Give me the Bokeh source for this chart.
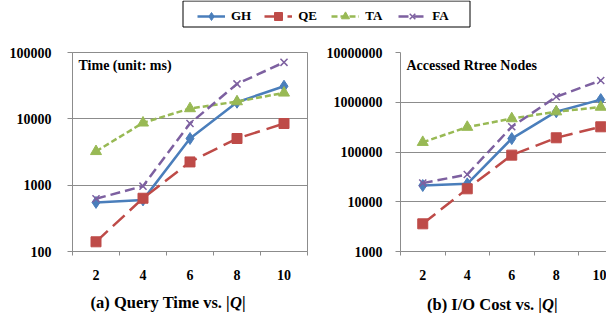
from bokeh.plotting import figure
from bokeh.layouts import column, row
from bokeh.models import (Range1d, FixedTicker, BasicTickFormatter, Legend,
                          LegendItem, Label, BoxAnnotation)
from bokeh.embed import file_html
from bokeh.resources import INLINE
from bokeh.core.properties import value

# ---------------- data ----------------
q_sizes = [2, 4, 6, 8, 10]
series = ["GH", "QE", "TA", "FA"]

time_gh = [550, 600, 5050, 17800, 31000]
time_qe = [140, 635, 2240, 5050, 8500]
time_ta = [3230, 8700, 14300, 18200, 24600]
time_fa = [624, 966, 8500, 33600, 71000]

io_gh = [21200, 22900, 186000, 646000, 1130000]
io_qe = [3600, 18200, 86500, 193000, 321000]
io_ta = [157000, 316000, 470000, 646000, 800000]
io_fa = [23700, 35300, 321000, 1290000, 2740000]

time_ticks = [100, 1000, 10000, 100000]
io_ticks = [1000, 10000, 100000, 1000000, 10000000]
band_edges = [1, 3, 5, 7, 9, 11]

time_title = "Time (unit: ms)"
io_title = "Accessed Rtree Nodes"
cap_a = "(a) Query Time vs. |"
cap_b = "(b) I/O Cost vs. |"

# ---------------- styles ----------------
FONT = "Liberation Serif"
GRID = "#8C8C8C"
COLORS = {"GH": "#4A7EBB", "QE": "#BE4B48", "TA": "#98B954", "FA": "#7D60A0"}
DASH = {"GH": "solid", "QE": "16 7", "TA": "6 3", "FA": "10 5"}
MARK = {"GH": "diamond", "QE": "square", "TA": "triangle", "FA": "x"}
MSIZE = {"GH": 12, "QE": 10, "TA": 11, "FA": 10}


def make_panel(vals, ticks, width, bl, br, x_end, title, standoff, outline):
    p = figure(width=width, height=242, x_range=Range1d(1, x_end),
               y_range=Range1d(ticks[0], ticks[-1]), y_axis_type="log",
               output_backend="svg", toolbar_location=None, title=None,
               min_border_left=bl, min_border_right=br,
               min_border_top=9, min_border_bottom=34,
               background_fill_color="white", border_fill_color="white")
    p.outline_line_color = GRID if outline else None
    p.xgrid.visible = False
    p.ygrid.grid_line_color = GRID
    p.ygrid.grid_line_width = 1
    p.xaxis.ticker = FixedTicker(ticks=q_sizes, minor_ticks=band_edges)
    p.yaxis.ticker = FixedTicker(ticks=ticks, minor_ticks=[])
    p.yaxis.formatter = BasicTickFormatter(use_scientific=False)
    for ax in (p.xaxis[0], p.yaxis[0]):
        ax.axis_line_color = GRID
        ax.major_tick_line_color = GRID
        ax.minor_tick_line_color = GRID
        ax.major_label_text_font = FONT
        ax.major_label_text_font_style = "bold"
        ax.major_label_text_font_size = "14px"
        ax.major_label_text_color = "black"
        ax.major_tick_in = 0
        ax.minor_tick_in = 0
    p.xaxis.major_tick_out = 0
    p.xaxis.minor_tick_out = 4
    p.xaxis.major_label_standoff = 14
    p.yaxis.major_tick_out = 5
    p.yaxis.minor_tick_out = 0
    p.yaxis.major_label_standoff = standoff

    for name, ys in zip(series, vals):
        p.line(q_sizes, ys, line_color=COLORS[name], line_width=2.5,
               line_dash=DASH[name])
        if MARK[name] == "x":
            p.scatter(q_sizes, ys, marker="x", size=MSIZE[name],
                      line_color=COLORS[name], line_width=1.5)
        else:
            p.scatter(q_sizes, ys, marker=MARK[name], size=MSIZE[name],
                      fill_color=COLORS[name], line_color=COLORS[name])

    p.add_layout(Label(x=6, y=186, x_units="screen", y_units="screen",
                       text=title, text_font=FONT, text_font_style="bold",
                       text_font_size="14px", text_color="black",
                       text_baseline="alphabetic"))
    return p


p1 = make_panel([time_gh, time_qe, time_ta, time_fa], time_ticks,
                322, 72, 15, 11, time_title, 16, True)
p2 = make_panel([io_gh, io_qe, io_ta, io_fa], io_ticks,
                284, 78, 0, 1 + 206 / 22.25, io_title, 13, False)

# ---------------- legend strip ----------------
top = figure(frame_width=606, frame_height=43, x_range=Range1d(0, 1),
             y_range=Range1d(0, 1),
             output_backend="svg", toolbar_location=None, title=None,
             x_axis_location=None, y_axis_location=None,
             min_border_left=0, min_border_right=0,
             min_border_top=0, min_border_bottom=0)
top.grid.visible = False
top.outline_line_color = None
top.add_layout(BoxAnnotation(left=182.5, right=469.5, bottom=16.5, top=42.5,
                             left_units="screen", right_units="screen",
                             bottom_units="screen", top_units="screen",
                             fill_alpha=0, line_color="black", line_width=1,
                             line_alpha=1))
items = []
for name in series:
    rl = top.line([-5, -4], [-5, -4], line_color=COLORS[name], line_width=2.5,
                  line_dash=DASH[name])
    if MARK[name] == "x":
        rm = top.scatter([-5], [-5], marker="x", size=8, line_color=COLORS[name],
                         line_width=1.5)
    else:
        rm = top.scatter([-5], [-5], marker=MARK[name],
                         size=10 if name == "GH" else 8,
                         fill_color=COLORS[name], line_color=COLORS[name])
    items.append(LegendItem(label=name, renderers=[rl, rm]))
legend = Legend(items=items, orientation="horizontal", location=(197, 17),
                padding=3, spacing=13, glyph_width=28, label_standoff=6,
                border_line_color=None, background_fill_alpha=0,
                label_text_font=FONT, label_text_font_style="bold",
                label_text_font_size="13px", label_text_color="black")
top.add_layout(legend)

# ---------------- captions ----------------
bot = figure(frame_width=606, frame_height=28,
             x_range=Range1d(0, 606), y_range=Range1d(0, 28),
             output_backend="svg", toolbar_location=None, title=None,
             x_axis_location=None, y_axis_location=None,
             min_border_left=0, min_border_right=0,
             min_border_top=0, min_border_bottom=0)
bot.grid.visible = False
bot.outline_line_color = None
cap_q = [229.5, 541.5]
cap_y = [11, 9.5]
common = dict(text_font=value(FONT), text_font_size="16.5px",
              text_color="black", text_baseline="alphabetic")
bot.text(x=cap_q, y=cap_y, text=[cap_a, cap_b], text_align="right",
         text_font_style="bold", **common)
bot.text(x=cap_q, y=cap_y, text=["Q", "Q"], text_align="left",
         text_font_style="bold italic", **common)
bot.text(x=[q + 12 for q in cap_q], y=cap_y, text=["|", "|"], text_align="left",
         text_font_style="bold", **common)

layout = column(top, row(p1, p2), bot)
open("out.html", "w").write(file_html(layout, INLINE))
